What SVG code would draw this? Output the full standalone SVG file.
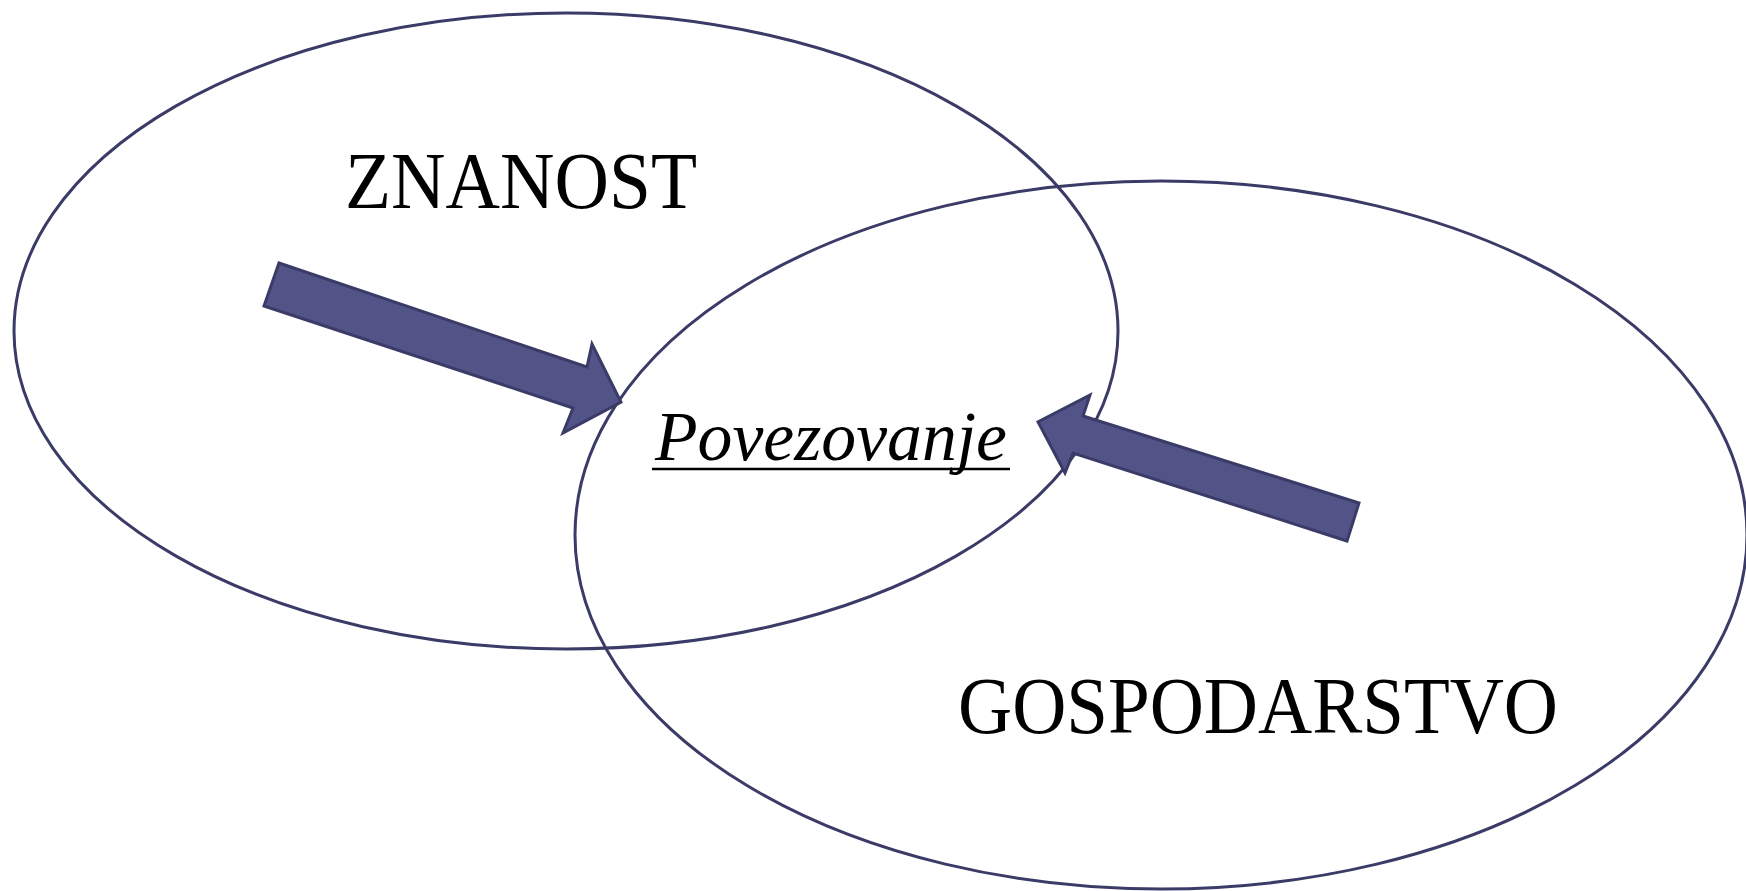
<svg xmlns="http://www.w3.org/2000/svg" width="1746" height="891" viewBox="0 0 1746 891">
<style>
.set{fill:none;stroke:#3b3b68;stroke-width:3}
.arrow{fill:#525488;stroke:#3b3b68;stroke-width:3;stroke-linejoin:miter}
.lbl{font-family:"Liberation Serif","Times New Roman",serif;fill:#000}
</style>
<rect width="1746" height="891" fill="#fff"/>
<g id="znanost">
<ellipse class="set" cx="566" cy="331" rx="552" ry="318"/>
<text class="lbl" font-family="Liberation Serif, serif" x="345" y="208" font-size="80" textLength="352" lengthAdjust="spacingAndGlyphs">ZNANOST</text>
</g>
<g id="gospodarstvo">
<ellipse class="set" cx="1161" cy="535" rx="586" ry="354"/>
<text class="lbl" font-family="Liberation Serif, serif" x="958" y="733" font-size="80" textLength="600" lengthAdjust="spacingAndGlyphs">GOSPODARSTVO</text>
</g>
<g id="povezovanje">
<text class="lbl" font-family="Liberation Serif, serif" x="655" y="460" font-size="70" font-style="italic" textLength="352" lengthAdjust="spacingAndGlyphs">Povezovanje</text>
<line x1="652" y1="469" x2="1010" y2="469" stroke="#000" stroke-width="2.5"/>
</g>
<g id="connectors">
<polygon class="arrow" points="279,263 587,367 592,344 621,402 563,433 573,408 264,306"/>
<polygon class="arrow" points="1359,503 1083,416 1090,395 1038,422 1065,473 1073,453 1347,541"/>
</g>
</svg>
